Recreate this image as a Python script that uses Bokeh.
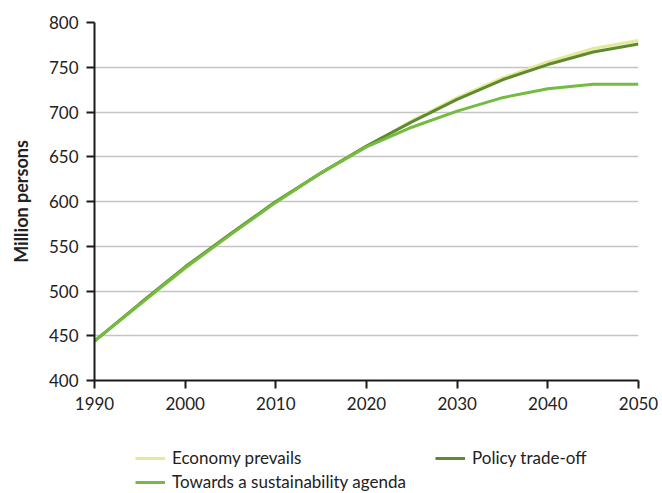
from bokeh.plotting import figure
from bokeh.layouts import column
from bokeh.models import Range1d, SingleIntervalTicker, Legend, LegendItem
from bokeh.embed import file_html
from bokeh.resources import INLINE

years = [1990, 1995, 2000, 2005, 2010, 2015, 2020, 2025, 2030, 2035, 2040, 2045, 2050]
economy_prevails = [444, 485, 525, 563, 599, 632, 662, 690, 716, 738, 756, 771, 780]
policy_trade_off = [444, 486, 527, 564, 600, 632, 662, 689, 714, 736, 753, 767, 776]
sustainability_agenda = [444, 485, 526, 563, 599, 632, 661, 683, 701, 716, 726, 731, 731]

series_names = ["Economy prevails", "Policy trade-off", "Towards a sustainability agenda"]
colors = ["#e4ea98", "#5e8a31", "#74bb41"]

FONT = "Lato"

p = figure(width=662, height=420, output_backend="svg", toolbar_location=None,
           x_range=Range1d(1990, 2050), y_range=Range1d(400, 800),
           min_border_left=94, min_border_right=24, min_border_top=22, min_border_bottom=40)
p.outline_line_color = None

p.line(years, economy_prevails, line_color=colors[0], line_width=3)
p.line(years, policy_trade_off, line_color=colors[1], line_width=3)
p.line(years, sustainability_agenda, line_color=colors[2], line_width=3)

p.xaxis.ticker = SingleIntervalTicker(interval=10)
p.yaxis.ticker = SingleIntervalTicker(interval=50)
for ax in (p.xaxis[0], p.yaxis[0]):
    ax.axis_line_color = "#1a1a1a"
    ax.axis_line_width = 2
    ax.major_tick_line_color = "#1a1a1a"
    ax.major_tick_line_width = 2
    ax.major_tick_out = 8
    ax.major_tick_in = 0
    ax.minor_tick_out = 0
    ax.minor_tick_in = 0
    ax.major_label_text_font = FONT
    ax.major_label_text_font_size = "17px"
    ax.major_label_text_color = "#222222"
    ax.major_label_standoff = 8

p.yaxis.axis_label = "Million persons"
p.yaxis.axis_label_text_font = FONT
p.yaxis.axis_label_text_font_style = "bold"
p.yaxis.axis_label_text_font_size = "18px"
p.yaxis.axis_label_text_color = "#222222"
p.yaxis.axis_label_standoff = 14

p.xgrid.grid_line_color = None
p.ygrid.grid_line_color = "#c4c4c4"
p.ygrid.grid_line_width = 1.5

# legend strip below the chart (frame is aligned with the chart's frame by the column)
lp = figure(width=662, height=73, output_backend="svg", toolbar_location=None,
            x_range=Range1d(0, 1), y_range=Range1d(0, 1), min_border=0)
lp.outline_line_color = None
lp.axis.visible = False
lp.grid.visible = False
nan = float("nan")
lr = [lp.line([nan], [nan], line_color=c, line_width=3) for c in colors]

common = dict(glyph_width=30, glyph_height=20, label_standoff=7, padding=0, margin=0,
              border_line_color=None, background_fill_alpha=0,
              label_text_font=FONT, label_text_font_size="17px", label_text_color="#222222")

positions = [(41, 25), (341, 25), (41, 1)]
for name, r, loc in zip(series_names, lr, positions):
    lp.add_layout(Legend(items=[LegendItem(label=name, renderers=[r])], location=loc, **common), "center")

open("out.html", "w").write(file_html(column(p, lp, spacing=0), INLINE))
